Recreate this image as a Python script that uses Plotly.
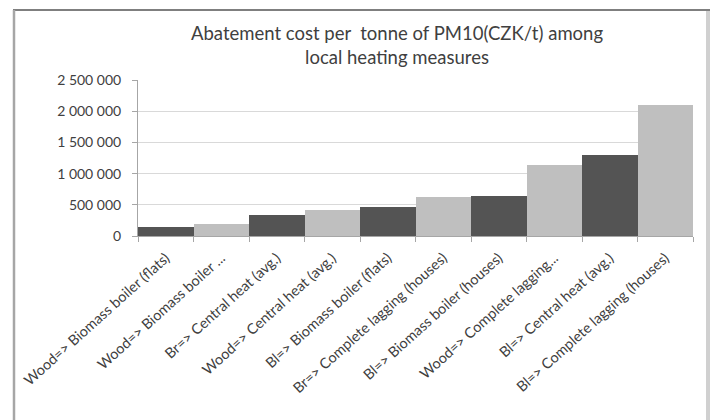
import plotly.graph_objects as go

# Measures, sorted by abatement cost
measures = [
    "Wood=> Biomass boiler (flats)",
    "Wood=> Biomass boiler ...",
    "Br=> Central heat (avg.)",
    "Wood=> Central heat (avg.)",
    "Bl=> Biomass boiler (flats)",
    "Br=> Complete lagging (houses)",
    "Bl=> Biomass boiler (houses)",
    "Wood=> Complete lagging...",
    "Bl=> Central heat (avg.)",
    "Bl=> Complete lagging (houses)",
]
cost_czk_per_t = [145000, 192000, 338000, 412000, 468000, 622000, 634000,
                  1132000, 1302000, 2100000]

y_tick_values = [0, 500000, 1000000, 1500000, 2000000, 2500000]
y_tick_labels = ["0", "500 000", "1 000 000", "1 500 000", "2 000 000", "2 500 000"]

DARK = "#545454"
LIGHT = "#bfbfbf"
bar_colors = [DARK if i % 2 == 0 else LIGHT for i in range(len(measures))]

W, H = 710, 420
L, R, T, B = 138, 17, 80, 184
plot_w = W - L - R
plot_h = H - T - B


def px_x(px):
    return (px - L) / plot_w


def px_y(py):
    return (H - B - py) / plot_h


text_col = "#404040"
font_family = "Lato, 'Open Sans', sans-serif"

fig = go.Figure(
    go.Bar(
        x=measures,
        y=cost_czk_per_t,
        marker=dict(color=bar_colors, line=dict(width=0)),
        hoverinfo="x+y",
    )
)

fig.update_layout(
    width=W,
    height=H,
    margin=dict(l=L, r=R, t=T, b=B, pad=0),
    paper_bgcolor="white",
    plot_bgcolor="white",
    bargap=0,
    showlegend=False,
    font=dict(family=font_family, color=text_col),
    title=dict(
        text="Abatement cost per  tonne of PM10(CZK/t) among<br>local heating measures",
        font=dict(size=18.5, color=text_col, family=font_family),
        xref="container",
        yref="container",
        x=397 / W,
        xanchor="center",
        y=1 - 40 / H,
        yanchor="top",
    ),
    xaxis=dict(
        type="category",
        tickangle=-42,
        tickfont=dict(size=14.5, color=text_col),
        ticklabelstandoff=7,
        showline=True,
        linecolor="#a6a6a6",
        linewidth=1,
        ticks="outside",
        tickson="boundaries",
        ticklen=5,
        tickcolor="#a6a6a6",
        showgrid=False,
        fixedrange=True,
    ),
    yaxis=dict(
        range=[0, 2500000],
        tickvals=y_tick_values,
        ticktext=y_tick_labels,
        tickfont=dict(size=14, color=text_col),
        ticklabelstandoff=8,
        showline=True,
        linecolor="#a6a6a6",
        linewidth=1,
        ticks="outside",
        ticklen=5,
        tickcolor="#a6a6a6",
        showgrid=True,
        gridcolor="#d9d9d9",
        gridwidth=1,
        zeroline=False,
        fixedrange=True,
    ),
    shapes=[
        # chart frame: top edge, left edge and right shadow band
        dict(type="line", xref="paper", yref="paper",
             x0=px_x(13), x1=px_x(712), y0=px_y(10), y1=px_y(10),
             line=dict(color="#7f7f7f", width=2)),
        dict(type="line", xref="paper", yref="paper",
             x0=px_x(14), x1=px_x(14), y0=px_y(10), y1=px_y(430),
             line=dict(color="#a6a6a6", width=2.5)),
        dict(type="line", xref="paper", yref="paper",
             x0=px_x(708), x1=px_x(708), y0=px_y(11), y1=px_y(430),
             line=dict(color="#d0d0d0", width=4)),
    ],
)

fig.write_html("out.html")
